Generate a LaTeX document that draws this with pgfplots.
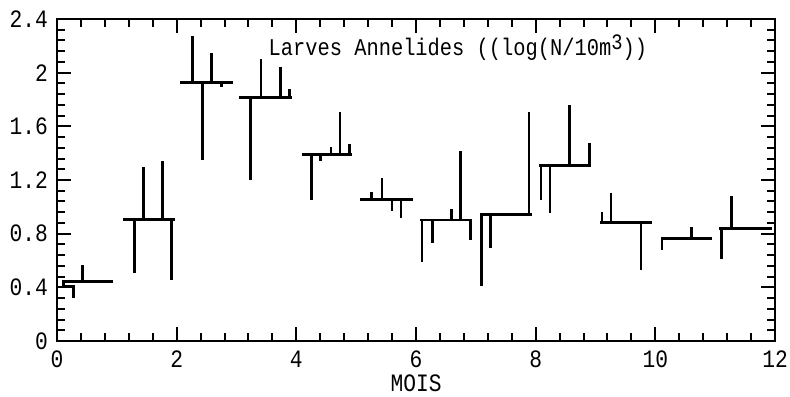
\documentclass[border=0pt]{standalone}
\usepackage{pgfplots}
\pgfplotsset{compat=1.18}
\usepackage{pgfplotstable}
\usepackage{fontspec}
\setmainfont[FakeStretch=0.85]{Liberation Mono}

% monthly mean lines: segment end points, separated by nan rows
\pgfplotstableread{
x y
0.105 0.442
0.915 0.442
nan nan
1.12 0.907
1.945 0.907
nan nan
2.085 1.925
2.92 1.925
nan nan
3.07 1.816
3.90 1.816
nan nan
4.11 1.393
4.90 1.393
nan nan
5.095 1.056
5.93 1.056
nan nan
6.087 0.902
6.92 0.902
nan nan
7.09 0.94
7.91 0.94
nan nan
8.08 1.311
8.90 1.311
nan nan
9.10 0.882
9.92 0.882
nan nan
10.11 0.765
10.93 0.765
nan nan
11.09 0.84
11.92 0.84
}\meantab

% individual samples: vertical lines from monthly mean to value
\pgfplotstableread{
x y
0.105 0.442
0.105 0.405
0.27 0.405
0.27 0.318
nan nan
0.42 0.442
0.42 0.566
nan nan
1.29 0.907
1.29 0.51
nan nan
1.44 0.907
1.44 1.30
nan nan
1.76 0.907
1.76 1.34
nan nan
1.92 0.907
1.92 0.455
nan nan
2.27 1.925
2.27 2.273
nan nan
2.43 1.925
2.43 1.349
nan nan
2.58 1.925
2.58 2.144
nan nan
2.75 1.925
2.75 1.895
nan nan
3.24 1.816
3.24 1.20
nan nan
3.41 1.816
3.41 2.10
nan nan
3.73 1.816
3.73 2.04
nan nan
3.885 1.816
3.885 1.875
nan nan
4.25 1.393
4.25 1.051
nan nan
4.41 1.393
4.41 1.344
nan nan
4.58 1.393
4.58 1.443
nan nan
4.73 1.393
4.73 1.709
nan nan
4.89 1.393
4.89 1.468
nan nan
5.26 1.056
5.26 1.113
nan nan
5.43 1.056
5.43 1.212
nan nan
5.60 1.056
5.60 0.971
nan nan
5.75 1.056
5.75 0.914
nan nan
6.10 0.902
6.10 0.591
nan nan
6.27 0.902
6.27 0.733
nan nan
6.59 0.902
6.59 0.984
nan nan
6.74 0.902
6.74 1.416
nan nan
6.91 0.902
6.91 0.753
nan nan
7.09 0.94
7.09 0.41
nan nan
7.25 0.94
7.25 0.695
nan nan
7.89 0.94
7.89 1.709
nan nan
8.09 1.311
8.09 1.051
nan nan
8.24 1.311
8.24 0.956
nan nan
8.56 1.311
8.56 1.759
nan nan
8.90 1.311
8.90 1.478
nan nan
9.11 0.882
9.11 0.964
nan nan
9.26 0.882
9.26 1.10
nan nan
9.76 0.882
9.76 0.53
nan nan
10.11 0.765
10.11 0.678
nan nan
10.60 0.765
10.60 0.852
nan nan
11.10 0.84
11.10 0.609
nan nan
11.27 0.84
11.27 1.083
}\spiketab

\begin{document}
\begin{tikzpicture}
\begin{axis}[
  scale only axis,
  width=359pt, height=161pt,
  xmin=0, xmax=12, ymin=0, ymax=2.4,
  xtick={0,2,4,6,8,10,12},
  ytick={0,0.4,0.8,1.2,1.6,2,2.4},
  yticklabels={0,0.4,0.8,1.2,1.6,2,2.4},
  minor x tick num=4, minor y tick num=4,
  tick align=inside,
  major tick length=7pt, minor tick length=4pt,
  axis line style={line width=1.4pt},
  every tick/.style={black, line width=1pt},
  /pgf/number format/assume math mode=true,
  tick label style={font=\fontsize{12.5}{12.5}\selectfont},
  yticklabel style={xshift=-1pt},
  xticklabel style={yshift=-1.5pt},
  xlabel={MOIS},
  xlabel style={font=\fontsize{12.5}{12.5}\selectfont, yshift=3.5pt},
  unbounded coords=jump,
  clip=false,
]
\addplot[black, line width=1.4pt, line cap=rect] table[x=x,y=y] {\meantab};
\addplot[black, line width=1.4pt] table[x=x,y=y] {\spiketab};
\node[anchor=west, font=\fontsize{12}{12}\selectfont, inner sep=0pt] at (axis cs:3.53,2.187)
  {Larves Annelides ((log(N/10m\raisebox{0.45ex}{\fontsize{11}{11}\selectfont 3}))};
\end{axis}
\pgfresetboundingbox
\path[use as bounding box] (-28.5pt,-27.5pt) rectangle (366.5pt,170.5pt);
\end{tikzpicture}
\end{document}
